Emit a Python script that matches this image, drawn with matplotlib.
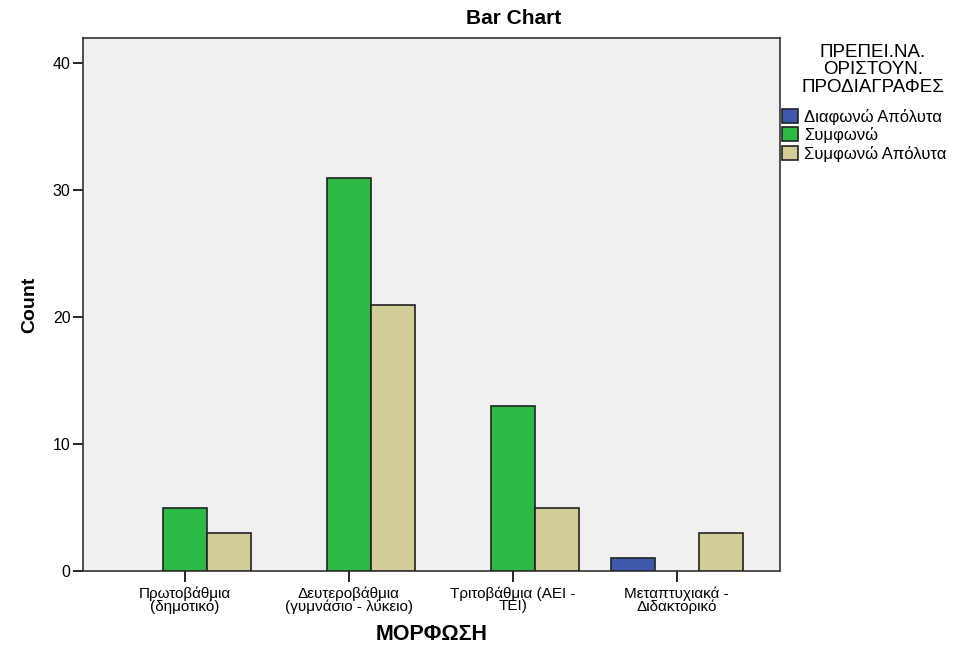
import numpy as np
import matplotlib.pyplot as plt

plt.rcParams['font.family'] = ['Liberation Sans', 'DejaVu Sans']

# Δεδομένα
katigories = ['Πρωτοβάθμια\n(δημοτικό)', 'Δευτεροβάθμια\n(γυμνάσιο - λύκειο)',
              'Τριτοβάθμια (ΑΕΙ -\nΤΕΙ)', 'Μεταπτυχιακά -\nΔιδακτορικό']
diafono_apoluta = [0, 0, 0, 1]
symfono = [5, 31, 13, 0]
symfono_apoluta = [3, 21, 5, 3]

seires = ['Διαφωνώ Απόλυτα', 'Συμφωνώ', 'Συμφωνώ Απόλυτα']
xromata = ['#3E58AC', '#2EB848', '#D3CE97']
times = [diafono_apoluta, symfono, symfono_apoluta]
titlos_legend = 'ΠΡΕΠΕΙ.ΝΑ.\nΟΡΙΣΤΟΥΝ.\nΠΡΟΔΙΑΓΡΑΦΕΣ'

W, H = 967, 646
fig = plt.figure(figsize=(W / 100, H / 100), dpi=100)
ax = fig.add_axes([83 / W, 1 - 571 / H, (780 - 83) / W, (571 - 38) / H])
ax.set_facecolor('#F0F0F0')

x = np.arange(len(katigories))
platos = 0.268
for i, (onoma, xroma, vals) in enumerate(zip(seires, xromata, times)):
    vals = np.array(vals, dtype=float)
    mask = vals > 0
    ax.bar(x[mask] + (i - 1) * platos, vals[mask], platos, color=xroma,
           edgecolor='#222222', linewidth=1.2, label=onoma, zorder=3)

ax.set_xlim(-0.62, 3.63)
ax.set_ylim(0, 42)
ax.set_yticks([0, 10, 20, 30, 40])
ax.set_xticks(x)
ax.set_xticklabels(katigories, fontsize=11, linespacing=0.85)
ax.tick_params(axis='y', length=7, width=1.2, labelsize=11.5, pad=2)
ax.tick_params(axis='x', length=8, width=1.2, pad=3)
for s in ax.spines.values():
    s.set_color('#333333')
    s.set_linewidth(1.2)

# τίτλος πάνω από άξονες + υπόμνημα
fig.text(514 / W, 1 - 18 / H, 'Bar Chart', fontsize=15, fontweight='bold',
         ha='center', va='center')
ax.set_ylabel('Count', fontsize=14, fontweight='bold', labelpad=10)
ax.set_xlabel('ΜΟΡΦΩΣΗ', fontsize=15.5, fontweight='bold')
ax.xaxis.label.set_va('center')
ax.xaxis.set_label_coords(0.5, (571 - 634) / (571 - 38))

# υπόμνημα
fig.text(873 / W, 1 - 70 / H, titlos_legend, fontsize=13.5, ha='center',
         va='center', multialignment='center', linespacing=1.05)
leg = fig.legend(loc='upper left', bbox_to_anchor=(780 / W, 1 - 107 / H),
                 frameon=False, fontsize=12, handlelength=1.0,
                 handleheight=0.9, handletextpad=0.35, labelspacing=0.15,
                 borderaxespad=0, borderpad=0.1)

fig.savefig('out.png', dpi=100)
